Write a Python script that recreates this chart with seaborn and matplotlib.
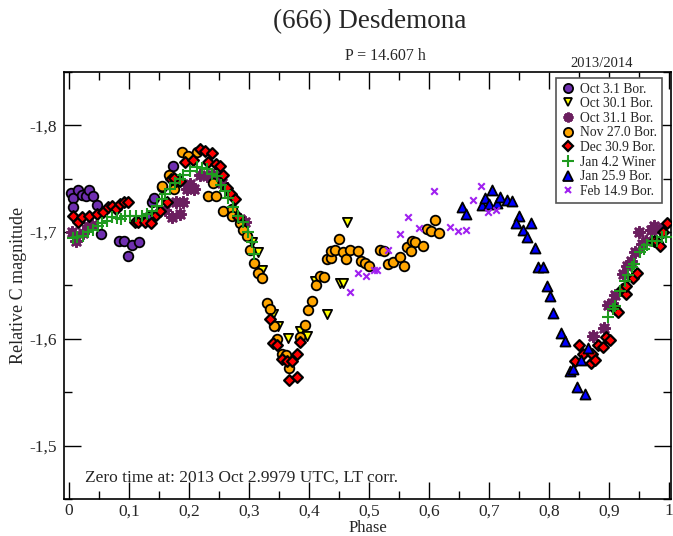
import numpy as np
import pandas as pd
import matplotlib
matplotlib.use("Agg")
import matplotlib.pyplot as plt
import seaborn as sns
from matplotlib.ticker import MultipleLocator, FuncFormatter
from matplotlib.lines import Line2D

# --- data (phase, relative magnitude) ---
oct03_phase = [0.003, 0.007, 0.007, 0.015, 0.022, 0.028, 0.033, 0.040, 0.047, 0.053,
               0.083, 0.092, 0.098, 0.105, 0.117, 0.132, 0.138, 0.142, 0.155, 0.173]
oct03_mag = [-1.737, -1.732, -1.723, -1.739, -1.735, -1.734, -1.739, -1.734, -1.725, -1.698,
             -1.692, -1.692, -1.678, -1.688, -1.691, -1.714, -1.728, -1.732, -1.742, -1.762]

oct30_phase = [0.305, 0.315, 0.322, 0.340, 0.348, 0.365, 0.385, 0.397, 0.410, 0.430,
               0.452, 0.457, 0.463]
oct30_mag = [-1.691, -1.681, -1.664, -1.623, -1.612, -1.601, -1.607, -1.603, -1.654, -1.623,
             -1.652, -1.652, -1.709]

oct31_phase = [0.005, 0.012, 0.023, 0.032, 0.038, 0.160, 0.172, 0.185, 0.178, 0.190,
               0.197, 0.202, 0.208, 0.218, 0.230, 0.240, 0.248, 0.255, 0.285, 0.293,
               0.873, 0.892, 0.898, 0.905, 0.910, 0.923, 0.930, 0.937, 0.943, 0.950,
               0.955, 0.962, 0.970, 0.975, 0.985]
oct31_mag = [-1.700, -1.692, -1.699, -1.706, -1.707, -1.721, -1.714, -1.717, -1.728, -1.728,
             -1.740, -1.745, -1.740, -1.753, -1.752, -1.753, -1.751, -1.746, -1.712, -1.709,
             -1.603, -1.610, -1.632, -1.634, -1.641, -1.661, -1.668, -1.673, -1.681, -1.700,
             -1.689, -1.692, -1.702, -1.706, -1.703]

nov27_phase = [0.155, 0.167, 0.175, 0.188, 0.198, 0.213, 0.232, 0.240, 0.245, 0.257,
               0.272, 0.272, 0.285, 0.290, 0.297, 0.302, 0.308, 0.315, 0.322, 0.330,
               0.335, 0.342, 0.347, 0.355, 0.362, 0.367, 0.385, 0.393, 0.398, 0.405,
               0.412, 0.418, 0.425, 0.430, 0.437, 0.437, 0.443, 0.450, 0.457, 0.462,
               0.468, 0.482, 0.487, 0.493, 0.500, 0.518, 0.525, 0.532, 0.540, 0.552,
               0.558, 0.563, 0.572, 0.577, 0.570, 0.590, 0.597, 0.603, 0.610, 0.617]
nov27_mag = [-1.743, -1.753, -1.740, -1.775, -1.771, -1.775, -1.734, -1.746, -1.734, -1.720,
             -1.722, -1.715, -1.708, -1.702, -1.696, -1.683, -1.671, -1.662, -1.657, -1.634,
             -1.628, -1.612, -1.600, -1.586, -1.585, -1.573, -1.602, -1.613, -1.627, -1.635,
             -1.650, -1.659, -1.658, -1.675, -1.676, -1.682, -1.683, -1.693, -1.681, -1.675,
             -1.683, -1.682, -1.673, -1.671, -1.668, -1.683, -1.682, -1.670, -1.672, -1.677,
             -1.668, -1.686, -1.692, -1.691, -1.682, -1.687, -1.703, -1.701, -1.711, -1.699]

dec30_phase = [0.007, 0.015, 0.022, 0.033, 0.047, 0.057, 0.065, 0.072, 0.078, 0.085,
               0.092, 0.098, 0.110, 0.115, 0.127, 0.137, 0.145, 0.152, 0.163, 0.170,
               0.178, 0.185, 0.175, 0.193, 0.207, 0.218, 0.227, 0.238, 0.232, 0.245,
               0.252, 0.257, 0.263, 0.270, 0.277, 0.282, 0.335, 0.340, 0.347, 0.355,
               0.363, 0.372, 0.380, 0.385, 0.367, 0.380, 0.843, 0.850, 0.857, 0.870,
               0.872, 0.877, 0.882, 0.890, 0.895, 0.902, 0.910, 0.915, 0.922, 0.928,
               0.928, 0.940, 0.947, 0.975, 0.980, 0.985, 0.990, 0.997]
dec30_mag = [-1.715, -1.709, -1.714, -1.715, -1.717, -1.719, -1.723, -1.724, -1.722, -1.726,
             -1.728, -1.728, -1.709, -1.709, -1.709, -1.708, -1.716, -1.720, -1.728, -1.750,
             -1.748, -1.748, -1.751, -1.766, -1.767, -1.778, -1.776, -1.774, -1.766, -1.764,
             -1.762, -1.753, -1.741, -1.736, -1.731, -1.714, -1.619, -1.596, -1.594, -1.581,
             -1.579, -1.579, -1.586, -1.597, -1.561, -1.564, -1.579, -1.594, -1.586, -1.577,
             -1.586, -1.580, -1.594, -1.592, -1.602, -1.599, -1.628, -1.625, -1.647, -1.642,
             -1.649, -1.657, -1.662, -1.692, -1.691, -1.687, -1.700, -1.708]

jan04_phase = [0.007, 0.013, 0.023, 0.032, 0.040, 0.048, 0.055, 0.063, 0.072, 0.080,
               0.087, 0.093, 0.102, 0.112, 0.122, 0.130, 0.138, 0.147, 0.155, 0.160,
               0.168, 0.177, 0.185, 0.190, 0.202, 0.213, 0.222, 0.230, 0.238, 0.247,
               0.253, 0.260, 0.265, 0.273, 0.282, 0.290, 0.298, 0.305, 0.308, 0.898,
               0.907, 0.910, 0.918, 0.927, 0.932, 0.938, 0.942, 0.952, 0.958, 0.963,
               0.972, 0.980, 0.988, 0.995]
jan04_mag = [-1.694, -1.695, -1.696, -1.700, -1.702, -1.706, -1.708, -1.710, -1.714, -1.713,
             -1.712, -1.715, -1.715, -1.715, -1.715, -1.717, -1.720, -1.724, -1.731, -1.736,
             -1.740, -1.746, -1.750, -1.753, -1.757, -1.761, -1.760, -1.759, -1.754, -1.752,
             -1.744, -1.738, -1.732, -1.723, -1.715, -1.709, -1.700, -1.691, -1.679, -1.620,
             -1.628, -1.631, -1.645, -1.654, -1.660, -1.667, -1.670, -1.681, -1.684, -1.688,
             -1.692, -1.692, -1.695, -1.695]

jan25_phase = [0.655, 0.662, 0.688, 0.693, 0.700, 0.705, 0.713, 0.718, 0.730, 0.738,
               0.750, 0.745, 0.757, 0.770, 0.763, 0.777, 0.782, 0.790, 0.797, 0.802,
               0.807, 0.820, 0.827, 0.835, 0.840, 0.847, 0.853, 0.860, 0.865]
jan25_mag = [-1.723, -1.717, -1.725, -1.732, -1.726, -1.739, -1.727, -1.733, -1.730, -1.729,
             -1.715, -1.708, -1.702, -1.708, -1.695, -1.685, -1.667, -1.667, -1.649, -1.640,
             -1.624, -1.605, -1.598, -1.570, -1.572, -1.555, -1.580, -1.548, -1.591]

feb14_phase = [0.468, 0.482, 0.495, 0.508, 0.513, 0.532, 0.552, 0.565, 0.583, 0.608,
               0.635, 0.648, 0.662, 0.673, 0.687, 0.698, 0.712]
feb14_mag = [-1.644, -1.662, -1.659, -1.664, -1.664, -1.683, -1.698, -1.714, -1.704, -1.738,
             -1.705, -1.701, -1.702, -1.730, -1.743, -1.719, -1.721]

labels = ["Oct 3.1 Bor.", "Oct 30.1 Bor.", "Oct 31.1 Bor.", "Nov 27.0 Bor.",
          "Dec 30.9 Bor.", "Jan 4.2 Winer", "Jan 25.9 Bor.", "Feb 14.9 Bor."]
phases = [oct03_phase, oct30_phase, oct31_phase, nov27_phase,
          dec30_phase, jan04_phase, jan25_phase, feb14_phase]
mags = [oct03_mag, oct30_mag, oct31_mag, nov27_mag,
        dec30_mag, jan04_mag, jan25_mag, feb14_mag]

# marker, face colour, edge colour, size, edge width
styles = [
    ("o", "#6f2fb0", "black", 48, 1.3),
    ("v", "#ffff00", "black", 44, 1.3),
    ((8, 2, 0), "#6b1f5f", "#6b1f5f", 55, 2.0),
    ("o", "#ffa500", "black", 48, 1.3),
    ("D", "#ff0000", "black", 30, 1.6),
    ("+", "#1f9a1f", "#1f9a1f", 70, 1.5),
    ("^", "#0000ff", "black", 52, 1.3),
    ("x", "#a020f0", "#a020f0", 22, 1.5),
]

sns.set_style("ticks")
plt.rcParams['font.family'] = ['Liberation Serif', 'DejaVu Serif']

fig = plt.figure(figsize=(6.73, 5.36), dpi=100)
ax = fig.add_axes([0.095, 0.069, 0.902, 0.797])

handles = []
for lab, ph, mg, (mk, fc, ec, sz, lw) in zip(labels, phases, mags, styles):
    df = pd.DataFrame({"phase": ph, "mag": mg})
    if mk in ("+", "x") or isinstance(mk, tuple):
        sns.scatterplot(data=df, x="phase", y="mag", ax=ax, marker=mk, color=fc,
                        s=sz, linewidth=lw, zorder=3)
    else:
        sns.scatterplot(data=df, x="phase", y="mag", ax=ax, marker=mk, color=fc,
                        edgecolor=ec, s=sz, linewidth=lw, zorder=3)
    handles.append(Line2D([], [], linestyle="none", marker=mk, markerfacecolor=fc,
                          markeredgecolor=ec, markersize=np.sqrt(sz) * 0.95,
                          markeredgewidth=lw, label=lab))

ax.set_xlim(-0.008, 1.003)
ax.set_ylim(-1.45, -1.85)

ax.xaxis.set_major_locator(MultipleLocator(0.1))
ax.xaxis.set_minor_locator(MultipleLocator(0.05))
ax.yaxis.set_major_locator(MultipleLocator(0.1))
ax.yaxis.set_minor_locator(MultipleLocator(0.05))

def comma_fmt(v, pos):
    s = f"{v:.1f}"
    if s.endswith(".0"):
        s = s[:-2]
    if s == "-0":
        s = "0"
    return s.replace(".", ",")

ax.xaxis.set_major_formatter(FuncFormatter(comma_fmt))
ax.yaxis.set_major_formatter(FuncFormatter(comma_fmt))

ax.tick_params(which="both", direction="in", top=True, right=True, labelsize=12.5,
               color="black", width=1.0)
ax.tick_params(which="major", length=12, pad=5)
ax.tick_params(axis="x", which="major", pad=3)
ax.tick_params(which="minor", length=6)
for sp in ax.spines.values():
    sp.set_linewidth(1.2)
    sp.set_color("black")

ax.set_xlabel("Phase", fontsize=12)
ax.set_ylabel("Relative C magnitude", fontsize=13)
ax.xaxis.set_label_coords(0.5, -0.050)
ax.yaxis.set_label_coords(-0.061, 0.5)

fig.text(0.55, 0.960, "(666) Desdemona", ha="center", va="center", fontsize=19.5)
fig.text(0.572, 0.896, "P = 14.607 h", ha="center", va="center", fontsize=11.5)
fig.text(0.894, 0.882, "2013/2014", ha="center", va="center", fontsize=10.5)

ax.text(0.035, 0.049, "Zero time at: 2013 Oct 2.9979 UTC, LT corr.", transform=ax.transAxes,
        ha="left", va="center", fontsize=12.5)

leg = ax.legend(handles=handles, loc="upper right", bbox_to_anchor=(0.985, 0.986),
                borderaxespad=0, fontsize=9.8, frameon=True, fancybox=False,
                edgecolor="#555555", framealpha=1, handletextpad=0.4,
                handlelength=1.0, labelspacing=0.12, borderpad=0.35)
leg.get_frame().set_linewidth(1.2)

fig.savefig("out.png", dpi=100)
